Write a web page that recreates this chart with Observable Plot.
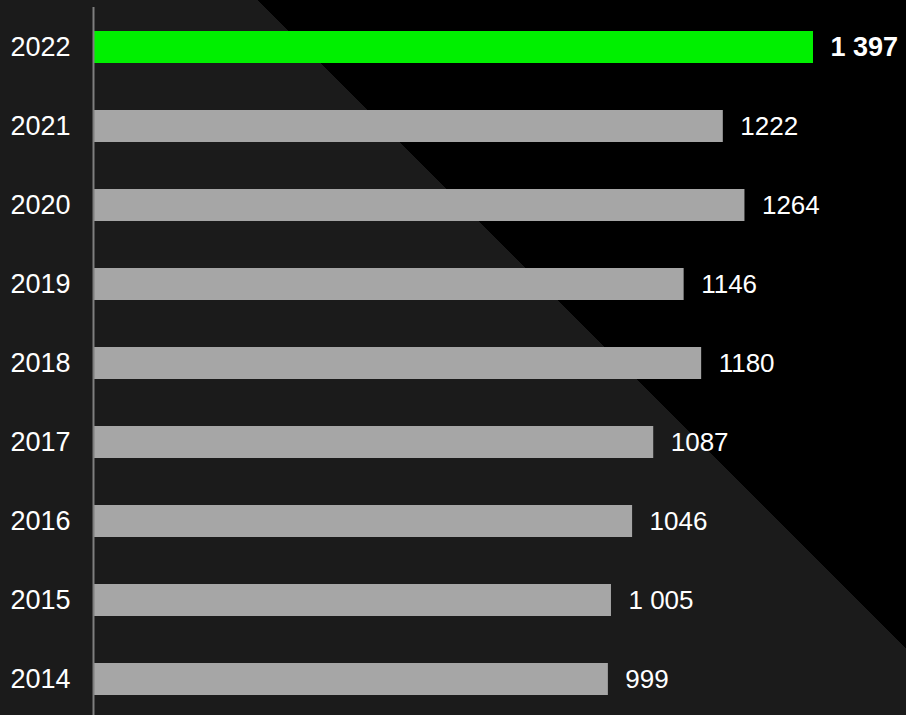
<!DOCTYPE html>
<html>
<head>
<meta charset="utf-8">
<script src="https://cdn.jsdelivr.net/npm/d3@7"></script>
<script src="https://cdn.jsdelivr.net/npm/@observablehq/plot@0.6"></script>
<style>
  html, body { margin: 0; padding: 0; background: #1b1b1b; }
  #chart svg { display: block; }
</style>
</head>
<body>
<div id="chart"></div>
<script>
const years = ["2022", "2021", "2020", "2019", "2018", "2017", "2016", "2015", "2014"];
const values = [1397, 1222, 1264, 1146, 1180, 1087, 1046, 1005, 999];
const labels = ["1 397", "1222", "1264", "1146", "1180", "1087", "1046", "1 005", "999"];
const highlight = "2022";

const data = years.map((y, i) => ({year: y, value: values[i], label: labels[i], hi: y === highlight}));

const chart = Plot.plot({
  width: 906,
  height: 715,
  marginLeft: 93,
  marginRight: 0,
  marginTop: 7,
  marginBottom: 0,
  style: {
    fontFamily: "Liberation Sans, Arial, sans-serif",
    background: "linear-gradient(45deg, #1b1b1b 60%, #000000 60%)"
  },
  x: {domain: [0, 1397], range: [93, 813], axis: null},
  y: {domain: years, range: [7.5, 718.5], paddingInner: 0.595, paddingOuter: 0.2975, label: null},
  marks: [
    Plot.barX(data, {y: "year", x: "value", fill: d => d.hi ? "#00f000" : "#a6a6a6"}),
    Plot.ruleX([0], {stroke: "#7f7f7f", strokeWidth: 2}),
    Plot.axisY({tickSize: 0, tickPadding: 23, fontSize: 27, color: "#ffffff", label: null}),
    Plot.text(data.filter(d => !d.hi), {
      y: "year", x: "value", text: "label", textAnchor: "start", dx: 17,
      fill: "#ffffff", fontSize: 26
    }),
    Plot.text(data.filter(d => d.hi), {
      y: "year", x: "value", text: "label", textAnchor: "start", dx: 17,
      fill: "#ffffff", fontSize: 27, fontWeight: "bold"
    })
  ]
});
document.getElementById("chart").append(chart);
</script>
</body>
</html>
